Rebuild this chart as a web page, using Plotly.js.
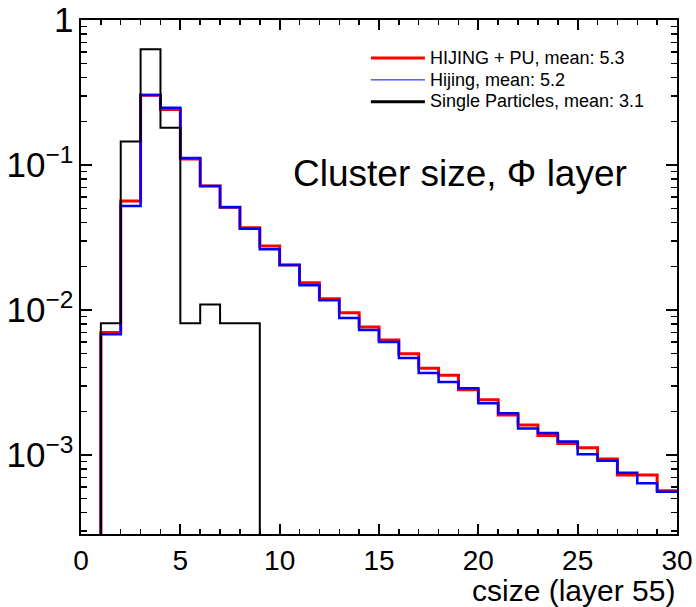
<!DOCTYPE html>
<html>
<head>
<meta charset="utf-8">
<script src="https://cdn.plot.ly/plotly-3.0.1.min.js"></script>
<style>html,body{margin:0;padding:0;background:#fff;}#chart{width:696px;height:607px;}</style>
</head>
<body>
<div id="chart"></div>
<script>
// Bin low edges (csize values), bins of width 1
const csize = [0,1,2,3,4,5,6,7,8,9,10,11,12,13,14,15,16,17,18,19,20,21,22,23,24,25,26,27,28,29];
const upperEdge = 30;

const hijingPU = [0, 0.0070, 0.0565, 0.303, 0.241, 0.110, 0.0717, 0.0511, 0.0369, 0.0276,
  0.0204, 0.01544, 0.01197, 0.00957, 0.00764, 0.0062, 0.0050, 0.00396, 0.00355, 0.00282,
  0.00240, 0.00189, 0.00161, 0.00136, 0.00120, 0.00112, 0.000938, 0.000728, 0.000728, 0.000567];

const hijing = [0, 0.0068, 0.0521, 0.304, 0.248, 0.1117, 0.0717, 0.0511, 0.0364, 0.0262,
  0.0204, 0.0148, 0.01167, 0.00881, 0.00728, 0.00602, 0.00467, 0.00368, 0.00319, 0.00288,
  0.00227, 0.00194, 0.00152, 0.00142, 0.00124, 0.00101, 0.000914, 0.000755, 0.000638, 0.000558];

const singleParticles = [0, 0.0081, 0.145, 0.628, 0.181, 0.0081, 0.0109, 0.0081, 0.0081, 0,
  0,0,0,0,0,0,0,0,0,0, 0,0,0,0,0,0,0,0,0,0];

const names = ['HIJING + PU, mean: 5.3', 'Hijing, mean: 5.2', 'Single Particles, mean: 3.1'];
const colors = ['rgb(255,0,0)', 'rgb(0,0,255)', 'rgb(0,0,0)'];

// Histogram step outline: empty bins drop below the visible log range (clipped)
const FLOOR = 1e-6;
function stepTrace(vals, color, width) {
  const xs = csize.concat([upperEdge]);
  const ys = vals.map(v => v > 0 ? v : FLOOR);
  ys.push(ys[ys.length - 1]);
  return {x: xs, y: ys, type: 'scatter', mode: 'lines', showlegend: false,
          line: {shape: 'hv', color: color, width: width}, hoverinfo: 'skip'};
}
// legend-only entries (no data drawn), to mimic the reference's legend line widths
function legendEntry(name, color, width) {
  return {x: [null], y: [null], type: 'scatter', mode: 'lines',
          name: '<span style="font-size:18px">' + name + '</span>',
          line: {color: color, width: width}, showlegend: true, hoverinfo: 'skip'};
}

const data = [
  stepTrace(hijingPU, colors[0], 3),
  stepTrace(hijing, colors[1], 2.5),
  stepTrace(singleParticles, colors[2], 2),
  legendEntry(names[0], colors[0], 3),
  legendEntry(names[1], colors[1], 1),
  legendEntry(names[2], colors[2], 3)
];

const font = 'Liberation Sans, Arial, sans-serif';
const layout = {
  width: 696, height: 607,
  margin: {l: 81, r: 19, t: 20, b: 73},
  paper_bgcolor: '#fff', plot_bgcolor: '#fff',
  font: {family: font, color: '#000'},
  showlegend: true,
  legend: {x: 0.478, y: 0.957, xanchor: 'left', yanchor: 'top', bgcolor: 'rgba(0,0,0,0)',
           font: {size: 14.5, family: font}, itemwidth: 54, tracegroupgap: 0},
  xaxis: {range: [0, 30], dtick: 5, tick0: 0, ticks: 'inside', ticklen: 10, tickwidth: 2,
          tickcolor: '#000', showline: true, linewidth: 2, linecolor: '#000', mirror: 'ticks',
          showgrid: false, zeroline: false, tickfont: {size: 28, family: font},
          minor: {dtick: 1, ticks: 'inside', ticklen: 5, tickwidth: 1.5, tickcolor: '#000', showgrid: false}},
  yaxis: {type: 'log', range: [-3.545, 0], dtick: 1, exponentformat: 'power',
          ticks: 'inside', ticklen: 11, tickwidth: 2, tickcolor: '#000',
          showline: true, linewidth: 2, linecolor: '#000', mirror: 'ticks',
          showgrid: false, zeroline: false, tickfont: {size: 28, family: font},
          minor: {dtick: 'D1', ticks: 'inside', ticklen: 6, tickwidth: 1.5, tickcolor: '#000', showgrid: false}},
  annotations: [
    {text: 'Cluster size, Φ layer', xref: 'paper', yref: 'paper', x: 0.352, y: 0.702,
     xanchor: 'left', yanchor: 'middle', showarrow: false, font: {size: 37, family: font}},
    {text: 'csize (layer 55)', xref: 'paper', yref: 'paper', x: 1.0, y: -0.145,
     xanchor: 'right', yanchor: 'bottom', showarrow: false, font: {size: 30, family: font}}
  ]
};

Plotly.newPlot('chart', data, layout, {staticPlot: true, displayModeBar: false});
</script>
</body>
</html>
